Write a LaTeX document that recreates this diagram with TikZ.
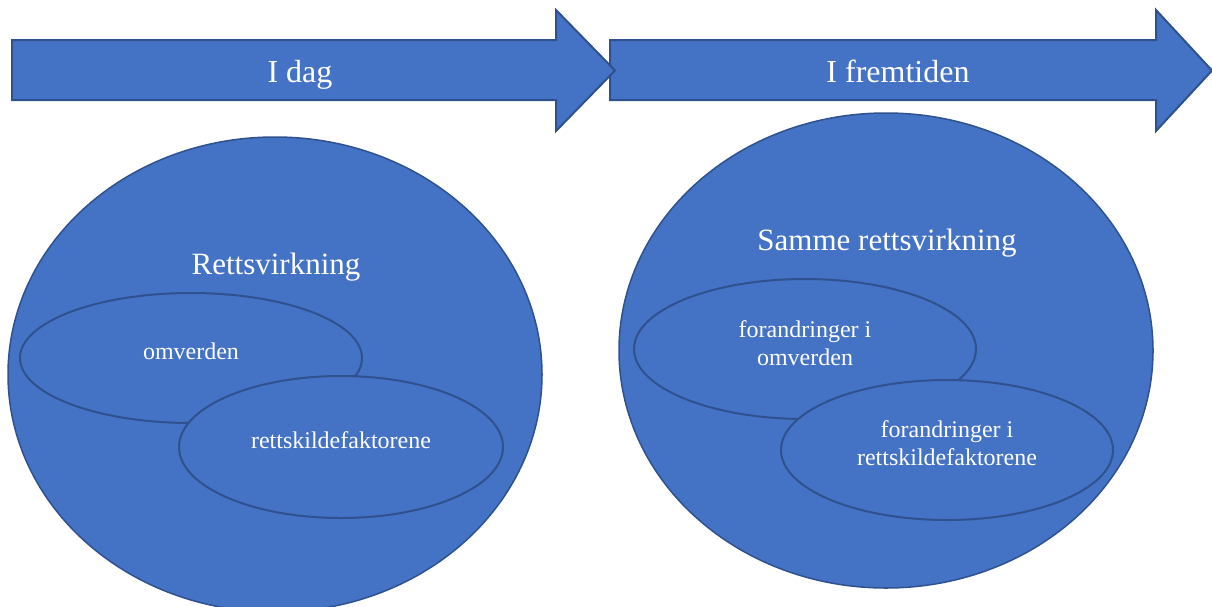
\documentclass[tikz,border=0pt]{standalone}
\usepackage{fontspec}
\setmainfont{Liberation Serif}
\usetikzlibrary{shapes.geometric}
\definecolor{shapefill}{HTML}{4472C4}
\definecolor{shapeline}{HTML}{2F528F}
\begin{document}
\begin{tikzpicture}[x=1pt,y=-1pt,
  circ/.style={ellipse, draw=shapeline, fill=shapefill, line width=1.5pt,
    inner sep=0pt, minimum width=534pt, minimum height=475pt},
  oval/.style={ellipse, draw=shapeline, fill=shapefill, line width=2pt, inner sep=0pt},
  timearrow/.style={draw=shapeline, fill=shapefill, line width=2pt, line join=miter},
  txt/.style={text=white, inner sep=0pt, anchor=base},
  bigtxt/.style={txt, font=\fontsize{32}{38}\selectfont},
  midtxt/.style={txt, font=\fontsize{31}{36}\selectfont},
  smalltxt/.style={text=white, inner sep=0pt, align=center,
    font=\fontsize{24}{28}\selectfont}
]
\useasboundingbox (0,0) rectangle (1212,606);

% time arrows (the second one first, so the first tip lies on top)
\draw[timearrow] (610,40) -- (1156,40) -- (1156,10) -- (1212,70.5)
  -- (1156,131) -- (1156,100) -- (610,100) -- cycle;
\draw[timearrow] (12,40) -- (556,40) -- (556,10) -- (615,70.5)
  -- (556,131) -- (556,100) -- (12,100) -- cycle;
\node[bigtxt] (today) at (300,82) {I dag};
\node[bigtxt] (future) at (898,82) {I fremtiden};

% today
\node[circ] (nowcircle) at (275,374.5) {};
\node[oval, minimum width=342pt, minimum height=130pt] (envnow) at (191,358) {};
\node[oval, minimum width=324pt, minimum height=142pt] (srcnow) at (341,447) {};
\node[midtxt] (effectnow) at (276,274) {Rettsvirkning};
\node[txt, font=\fontsize{24}{28}\selectfont] (envnowtxt) at (191,359) {omverden};
\node[txt, font=\fontsize{24}{28}\selectfont] (srcnowtxt) at (341,448) {rettskildefaktorene};

% in the future
\node[circ] (latercircle) at (886,350.5) {};
\node[oval, minimum width=342pt, minimum height=140pt] (envlater) at (805,349) {};
\node[oval, minimum width=332pt, minimum height=140pt] (srclater) at (947,450) {};
\node[midtxt] (effectlater) at (887,250) {Samme rettsvirkning};
\node[smalltxt] (envlatertxt) at (805,343) {forandringer i\\omverden};
\node[smalltxt] (srclatertxt) at (947,443) {forandringer i\\rettskildefaktorene};
\end{tikzpicture}
\end{document}
